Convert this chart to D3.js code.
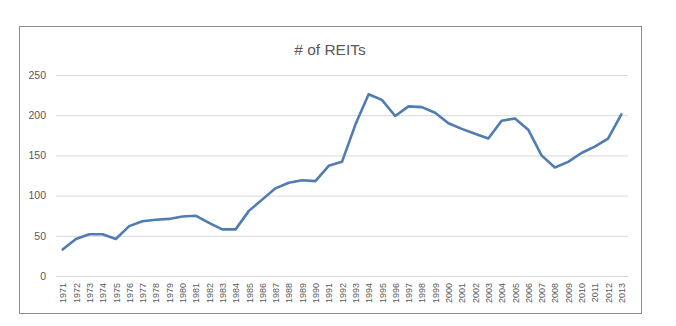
<!DOCTYPE html>
<html><head><meta charset="utf-8">
<script src="https://cdn.jsdelivr.net/npm/d3@7"></script>
<style>body{margin:0;background:#fff;} svg{display:block;}</style>
</head><body>
<svg id="c" width="676" height="326"></svg>
<script>
const years = [1971,1972,1973,1974,1975,1976,1977,1978,1979,1980,1981,1982,1983,1984,1985,1986,1987,1988,1989,1990,1991,1992,1993,1994,1995,1996,1997,1998,1999,2000,2001,2002,2003,2004,2005,2006,2007,2008,2009,2010,2011,2012,2013];
const reits = [33,46,52,52,46,62,68,70,71,74,75,66,58,58,81,95,109,116,119,118,137,142,188,226,219,199,211,210,203,190,183,177,171,193,196,182,150,135,142,153,161,171,201];
const yTicks = [0,50,100,150,200,250];
const title = "# of REITs";

const svg = d3.select("#c");
const L = 56, R = 628, T = 75, B = 276;
const x = d3.scalePoint().domain(years.map(String)).range([L, R]).padding(0.5);
const y = d3.scaleLinear().domain([0, 250]).range([B, T]);

svg.append("rect").attr("x", 19.5).attr("y", 26.5).attr("width", 622).attr("height", 287)
  .attr("fill", "#fff").attr("stroke", "#8c8c8c").attr("stroke-width", 1);

svg.append("text").attr("x", 330).attr("y", 55).attr("text-anchor", "middle")
  .attr("font-family", "Liberation Sans, Arial, sans-serif").attr("font-size", 15.5)
  .attr("fill", "#595959").text(title);

const yAxis = svg.append("g").attr("transform", `translate(${L},0)`)
  .call(d3.axisLeft(y).tickValues(yTicks).tickSize(-(R - L)).tickPadding(10));
yAxis.select(".domain").remove();
yAxis.selectAll(".tick line").attr("stroke", "#d9d9d9");
yAxis.selectAll(".tick text").attr("fill", "#595959")
  .attr("font-family", "Liberation Sans, Arial, sans-serif").attr("font-size", 10.5);

const xAxis = svg.append("g").attr("transform", `translate(0,${B})`)
  .call(d3.axisBottom(x).tickSize(0));
xAxis.select(".domain").attr("stroke", "#d9d9d9");
xAxis.selectAll(".tick text")
  .attr("fill", "#595959").attr("font-family", "Liberation Sans, Arial, sans-serif").attr("font-size", 9)
  .attr("transform", "rotate(-90)").attr("text-anchor", "end")
  .attr("x", -7).attr("y", 0).attr("dy", "0.35em");

const line = d3.line().x((d, i) => x(String(years[i]))).y(d => y(d));
svg.append("path").datum(reits).attr("d", line).attr("fill", "none")
  .attr("stroke", "#4f7cb1").attr("stroke-width", 2.6).attr("stroke-linejoin", "round").attr("stroke-linecap", "round");
</script>
</body></html>
